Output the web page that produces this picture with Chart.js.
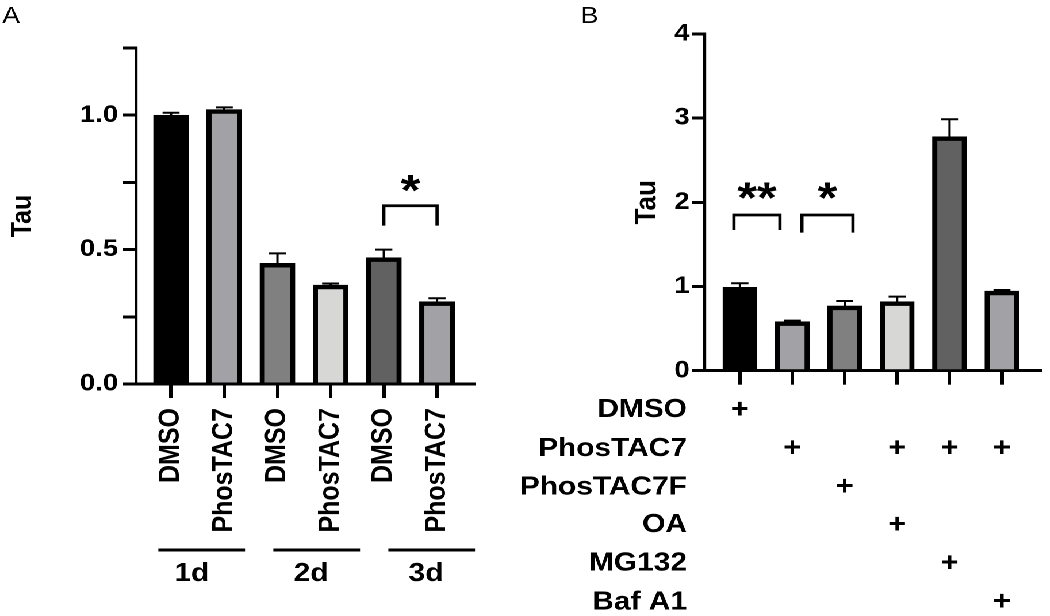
<!DOCTYPE html>
<html>
<head>
<meta charset="utf-8">
<script src="https://cdn.jsdelivr.net/npm/chart.js@4.4.1/dist/chart.umd.min.js"></script>
<style>
  html, body { margin: 0; padding: 0; background: #ffffff; width: 1050px; height: 616px; overflow: hidden; }
  #wrap { position: absolute; left: 0; top: 0; width: 913px; height: 616px; transform: scaleX(1.15); transform-origin: 0 0; }
  #wrap canvas { position: absolute; left: 0; top: 0; }
</style>
</head>
<body>
<div id="wrap">
  <canvas id="chartA" width="913" height="616"></canvas>
  <canvas id="chartB" width="913" height="616"></canvas>
</div>
<script>
// ---------------- Panel A data ----------------
const categoriesA = ['DMSO', 'PhosTAC7', 'DMSO', 'PhosTAC7', 'DMSO', 'PhosTAC7'];
const valuesA = [1.00, 1.021, 0.449, 0.368, 0.470, 0.306];
const errorsA = [0.009, 0.008, 0.037, 0.006, 0.030, 0.013];
const colorsA = ['#000000', '#a2a1a6', '#808080', '#d7d7d5', '#616161', '#a2a1a6'];
const groupLabelsA = ['1d', '2d', '3d'];
const labelledTicksA = [0, 0.5, 1.0];
const significanceA = [{ from: 4, to: 5, label: '*' }];

// ---------------- Panel B data ----------------
const conditionsB = ['DMSO', 'PhosTAC7', 'PhosTAC7F', 'OA', 'MG132', 'Baf A1'];
const valuesB = [0.99, 0.582, 0.768, 0.819, 2.778, 0.946];
const errorsB = [0.048, 0.012, 0.060, 0.060, 0.207, 0.012];
const colorsB = ['#000000', '#a2a1a6', '#808080', '#d7d7d5', '#616161', '#a2a1a6'];
const treatmentMatrixB = [
  [1, 0, 0, 0, 0, 0],   // DMSO
  [0, 1, 0, 1, 1, 1],   // PhosTAC7
  [0, 0, 1, 0, 0, 0],   // PhosTAC7F
  [0, 0, 0, 1, 0, 0],   // OA
  [0, 0, 0, 0, 1, 0],   // MG132
  [0, 0, 0, 0, 0, 1]    // Baf A1
];
const yTicksB = [0, 1, 2, 3, 4];
const significanceB = [{ from: 0, to: 1, label: '**' }, { from: 1, to: 2, label: '*' }];

// ---------------- layout (not data) ----------------
const FONT = '"Liberation Sans", Arial, Helvetica, sans-serif';
const bracketLayoutA = [{ x0: 4, x1: 5, yTop: 0.663, yLeg0: 0.589, yLeg1: 0.589, yText: 0.75 }];
const bracketLayoutB = [
  { x0: -0.115, x1: 0.763, yTop: 1.849, yLeg0: 1.671, yLeg1: 1.671, yText: 2.146 },
  { x0: 1.183, x1: 2.157, yTop: 1.849, yLeg0: 1.639, yLeg1: 1.639, yText: 2.146 }
];
const groupLayoutA = [
  { x0: -0.239, x1: 1.391, xText: 0.389 },
  { x0: 1.923, x1: 3.553, xText: 2.632 },
  { x0: 4.085, x1: 5.714, xText: 4.793 }
];

function inkText(ctx, text, cx, cy, font, align) {
  ctx.save();
  ctx.font = font;
  ctx.fillStyle = '#000';
  ctx.textAlign = align || 'center';
  ctx.textBaseline = 'alphabetic';
  const m = ctx.measureText(text);
  ctx.fillText(text, cx, cy + (m.actualBoundingBoxAscent - m.actualBoundingBoxDescent) / 2);
  ctx.restore();
}

function drawErrorBars(chart, errors, capW) {
  const ctx = chart.ctx;
  const meta = chart.getDatasetMeta(0);
  const y = chart.scales.y;
  const vals = chart.data.datasets[0].data;
  ctx.save();
  ctx.strokeStyle = '#000';
  ctx.lineWidth = 2;
  meta.data.forEach((bar, i) => {
    const top = y.getPixelForValue(vals[i] + errors[i]);
    ctx.beginPath();
    ctx.moveTo(bar.x, bar.y);
    ctx.lineTo(bar.x, top);
    ctx.moveTo(bar.x - capW / 2, top);
    ctx.lineTo(bar.x + capW / 2, top);
    ctx.stroke();
  });
  ctx.restore();
}

function drawBrackets(chart, sig, layout, starSize) {
  const ctx = chart.ctx;
  const xs = chart.scales.x, ys = chart.scales.y;
  sig.forEach((s, i) => {
    const L = layout[i];
    const xa = xs.getPixelForValue(L.x0), xb = xs.getPixelForValue(L.x1);
    const yt = ys.getPixelForValue(L.yTop);
    ctx.save();
    ctx.strokeStyle = '#000';
    ctx.lineWidth = 2.8;
    ctx.lineJoin = 'miter';
    ctx.beginPath();
    ctx.moveTo(xa, ys.getPixelForValue(L.yLeg0));
    ctx.lineTo(xa, yt);
    ctx.lineTo(xb, yt);
    ctx.lineTo(xb, ys.getPixelForValue(L.yLeg1));
    ctx.stroke();
    ctx.restore();
    inkText(ctx, s.label, (xa + xb) / 2, ys.getPixelForValue(L.yText), 'bold ' + starSize + 'px ' + FONT);
  });
}

function panelLabel(ctx, text, x, baseline) {
  ctx.save();
  ctx.font = '23px ' + FONT;
  ctx.fillStyle = '#000';
  ctx.textAlign = 'left';
  ctx.textBaseline = 'alphabetic';
  ctx.fillText(text, x, baseline);
  ctx.restore();
}

const extrasA = {
  id: 'extrasA',
  afterDatasetsDraw(chart) {
    drawErrorBars(chart, errorsA, 14.8);
    drawBrackets(chart, significanceA, bracketLayoutA, 44);
    const ctx = chart.ctx, xs = chart.scales.x;
    groupLabelsA.forEach((g, i) => {
      const L = groupLayoutA[i];
      ctx.save();
      ctx.strokeStyle = '#000';
      ctx.lineWidth = 3;
      ctx.beginPath();
      ctx.moveTo(xs.getPixelForValue(L.x0), 550);
      ctx.lineTo(xs.getPixelForValue(L.x1), 550);
      ctx.stroke();
      ctx.restore();
      inkText(ctx, g, xs.getPixelForValue(L.xText), 571.7, 'bold 26px ' + FONT);
    });
    panelLabel(ctx, 'A', 2, 23);
  }
};

const extrasB = {
  id: 'extrasB',
  afterDatasetsDraw(chart) {
    drawErrorBars(chart, errorsB, 14.8);
    drawBrackets(chart, significanceB, bracketLayoutB, 44);
    const ctx = chart.ctx, xs = chart.scales.x;
    conditionsB.forEach((c, r) => {
      const cy = 408 + r * 38.4;
      inkText(ctx, c, 597.4, cy, 'bold 26px ' + FONT, 'right');
      treatmentMatrixB[r].forEach((on, j) => {
        if (on) inkText(ctx, '+', xs.getPixelForValue(j), cy, 'bold 27px ' + FONT);
      });
    });
    panelLabel(ctx, 'B', 505, 23);
  }
};

Chart.defaults.font.family = FONT;
Chart.defaults.color = '#000';

function axisGrid(tl) {
  return { display: true, drawOnChartArea: false, drawTicks: true, offset: false, tickLength: tl, color: '#000', lineWidth: 3 };
}

new Chart(document.getElementById('chartA'), {
  type: 'bar',
  data: {
    labels: categoriesA.map((_, i) => i),
    datasets: [{
      data: valuesA,
      backgroundColor: colorsA,
      borderColor: '#000',
      borderWidth: 4.5,
      barThickness: 30.4
    }]
  },
  options: {
    responsive: false,
    maintainAspectRatio: false,
    devicePixelRatio: 2,
    animation: false,
    events: [],
    layout: { padding: { left: 0, top: 48, right: 500.8, bottom: 0 } },
    plugins: { legend: { display: false }, tooltip: { enabled: false } },
    scales: {
      x: {
        type: 'linear', min: -0.658, max: 5.695, offset: false, z: 1,
        grid: axisGrid(14),
        border: { display: true, color: '#000', width: 3 },
        ticks: {
          stepSize: 1, includeBounds: false, autoSkip: false,
          minRotation: 90, maxRotation: 90, padding: 10, color: '#000',
          font: { family: FONT, size: 25, weight: 'bold' },
          callback: (v) => (categoriesA[v] !== undefined ? categoriesA[v] : '')
        },
        afterFit: (s) => { s.height = 232; }
      },
      y: {
        min: 0, max: 1.25,
        grid: axisGrid(11.3),
        border: { display: true, color: '#000', width: 2.6 },
        ticks: {
          stepSize: 0.25, padding: 4.3, color: '#000',
          font: { family: FONT, size: 24, weight: 'bold' },
          callback: (v) => (labelledTicksA.some(t => Math.abs(t - v) < 1e-9) ? v.toFixed(1) : '')
        },
        title: {
          display: true, text: 'Tau', color: '#000',
          font: { family: FONT, size: 25, weight: 'bold', lineHeight: 1.2 },
          padding: { top: 5, bottom: 0 }
        },
        afterFit: (s) => { s.width = 118.3; }
      }
    }
  },
  plugins: [extrasA]
});

new Chart(document.getElementById('chartB'), {
  type: 'bar',
  data: {
    labels: conditionsB.map((_, i) => i),
    datasets: [{
      data: valuesB,
      backgroundColor: colorsB,
      borderColor: '#000',
      borderWidth: 4.5,
      barThickness: 29.6
    }]
  },
  options: {
    responsive: false,
    maintainAspectRatio: false,
    devicePixelRatio: 2,
    animation: false,
    events: [],
    layout: { padding: { left: 540, top: 33.8, right: 8.7, bottom: 0 } },
    plugins: { legend: { display: false }, tooltip: { enabled: false } },
    scales: {
      x: {
        type: 'linear', min: -0.668, max: 5.725, offset: false, z: 1,
        grid: axisGrid(14),
        border: { display: true, color: '#000', width: 3 },
        ticks: { stepSize: 1, includeBounds: false, autoSkip: false, display: false },
        afterFit: (s) => { s.height = 245.3; }
      },
      y: {
        min: 0, max: 4,
        grid: axisGrid(11.3),
        border: { display: true, color: '#000', width: 2.6 },
        ticks: {
          stepSize: 1, padding: 2, color: '#000',
          font: { family: FONT, size: 24, weight: 'bold' },
          callback: (v) => (yTicksB.includes(v) ? String(v) : '')
        },
        title: {
          display: true, text: 'Tau', color: '#000',
          font: { family: FONT, size: 26, weight: 'bold', lineHeight: 1.2 },
          padding: { top: 7, bottom: 0 }
        },
        afterFit: (s) => { s.width = 73; }
      }
    }
  },
  plugins: [extrasB]
});
</script>
</body>
</html>
